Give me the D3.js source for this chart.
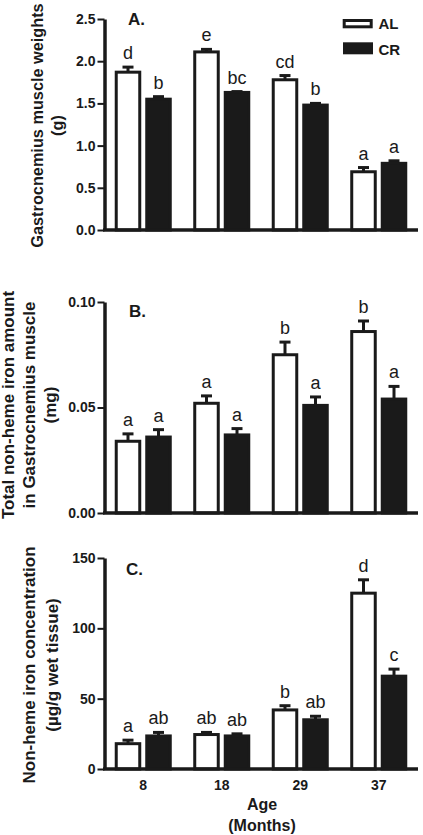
<!DOCTYPE html>
<html>
<head>
<meta charset="utf-8">
<script src="https://cdn.jsdelivr.net/npm/d3@7"></script>
<style>
  html, body { margin: 0; padding: 0; background: #fff; }
  svg { display: block; }
  text { font-family: "Liberation Sans", Arial, Helvetica, sans-serif; fill: #1a1a1a; }
</style>
</head>
<body>
<svg id="chart" width="423" height="835"></svg>
<script>
// ---- data ----
const ages = ["8", "18", "29", "37"];
const groups = ["AL", "CR"];

// Panel A: Gastrocnemius muscle weights (g)
const weightAL = [1.87, 2.11, 1.78, 0.69];
const weightALsem = [0.06, 0.03, 0.05, 0.05];
const weightCR = [1.55, 1.63, 1.48, 0.79];
const weightCRsem = [0.03, 0.01, 0.02, 0.03];
const weightLettersAL = ["d", "e", "cd", "a"];
const weightLettersCR = ["b", "bc", "b", "a"];
const weightTicks = [0, 0.5, 1.0, 1.5, 2.0, 2.5];

// Panel B: total non-heme iron amount (mg)
const amountAL = [0.034, 0.052, 0.075, 0.086];
const amountALsem = [0.0035, 0.0035, 0.006, 0.005];
const amountCR = [0.036, 0.037, 0.051, 0.054];
const amountCRsem = [0.0035, 0.003, 0.004, 0.006];
const amountLettersAL = ["a", "a", "b", "b"];
const amountLettersCR = ["a", "a", "a", "a"];
const amountTicks = [0, 0.05, 0.10];

// Panel C: non-heme iron concentration (µg/g wet tissue)
const concAL = [18, 24.5, 42, 125];
const concALsem = [2.5, 1.5, 3, 9.5];
const concCR = [23.5, 23.5, 35, 66];
const concCRsem = [2.5, 1.5, 2.5, 5];
const concLettersAL = ["a", "ab", "b", "d"];
const concLettersCR = ["ab", "ab", "ab", "c"];
const concTicks = [0, 50, 100, 150];

const ink = "#1a1a1a";
const svg = d3.select("#chart");

const x0 = d3.scaleBand().domain(ages).range([104, 418]).paddingInner(0).paddingOuter(0);
const x1 = d3.scaleBand().domain(groups).range([0, x0.bandwidth()]).paddingInner(0.131).paddingOuter(0.352);

const panels = [
  { label: "A.", labelPos: [128, 25], domain: [0, 2.5], range: [230, 19], ticks: weightTicks, fmt: d3.format(".1f"),
    al: weightAL, alSem: weightALsem, cr: weightCR, crSem: weightCRsem, lAL: weightLettersAL, lCR: weightLettersCR,
    title: ["Gastrocnemius muscle weights", "(g)"], titleX: [42.5, 63], titleY: 125.5, titleSize: 16.3 },
  { label: "B.", labelPos: [129, 317], domain: [0, 0.10], range: [513, 302], ticks: amountTicks, fmt: d3.format(".2f"),
    al: amountAL, alSem: amountALsem, cr: amountCR, crSem: amountCRsem, lAL: amountLettersAL, lCR: amountLettersCR,
    title: ["Total non-heme iron amount", "in Gastrocnemius muscle", "(mg)"], titleX: [14, 35, 55.5], titleY: 405, titleSize: 17 },
  { label: "C.", labelPos: [126, 575], domain: [0, 150], range: [769, 558], ticks: concTicks, fmt: d3.format("d"),
    al: concAL, alSem: concALsem, cr: concCR, crSem: concCRsem, lAL: concLettersAL, lCR: concLettersCR,
    title: ["Non-heme iron concentration", "(\u00b5g/g wet tissue)"], titleX: [35, 58], titleY: 665, titleSize: 17 }
];

panels.forEach((p, pi) => {
  const y = d3.scaleLinear().domain(p.domain).range(p.range);
  const g = svg.append("g");

  const rows = [];
  ages.forEach((a, i) => {
    rows.push({ age: a, grp: "AL", v: p.al[i], sem: p.alSem[i], lab: p.lAL[i] });
    rows.push({ age: a, grp: "CR", v: p.cr[i], sem: p.crSem[i], lab: p.lCR[i] });
  });
  const bw = x1.bandwidth();
  const bx = d => x0(d.age) + x1(d.grp);

  // error bars (upper only)
  rows.forEach(d => {
    const cx = bx(d) + bw / 2;
    g.append("line").attr("x1", cx).attr("x2", cx).attr("y1", y(d.v)).attr("y2", y(d.v + d.sem))
      .attr("stroke", ink).attr("stroke-width", 3);
    g.append("line").attr("x1", cx - 5.5).attr("x2", cx + 5.5).attr("y1", y(d.v + d.sem)).attr("y2", y(d.v + d.sem))
      .attr("stroke", ink).attr("stroke-width", 3);
  });

  g.selectAll("rect.bar").data(rows).join("rect")
    .attr("class", "bar")
    .attr("x", d => bx(d) + 1.5)
    .attr("width", bw - 3)
    .attr("y", d => y(d.v))
    .attr("height", d => y(0) - y(d.v))
    .attr("fill", d => d.grp === "AL" ? "#fff" : ink)
    .attr("stroke", ink).attr("stroke-width", 3);

  // significance letters
  g.selectAll("text.sig").data(rows).join("text")
    .attr("class", "sig")
    .attr("x", d => bx(d) + bw / 2)
    .attr("y", d => y(d.v + d.sem) - 8)
    .attr("text-anchor", "middle")
    .attr("font-size", 18)
    .text(d => d.lab);

  // y axis
  const ya = g.append("g").attr("transform", "translate(104.5,0)")
    .call(d3.axisLeft(y).tickValues(p.ticks).tickFormat(p.fmt).tickSize(7).tickSizeOuter(0).tickPadding(2));
  ya.select(".domain").attr("stroke", ink).attr("stroke-width", 3.5);
  ya.selectAll(".tick line").attr("stroke", ink).attr("stroke-width", 2);
  ya.selectAll(".tick text").attr("font-size", 14).attr("font-weight", "bold")
    .attr("font-family", "Liberation Sans, Arial, sans-serif").attr("fill", ink);

  // x axis line
  g.append("line").attr("x1", 103).attr("x2", 418).attr("y1", y(0)).attr("y2", y(0))
    .attr("stroke", ink).attr("stroke-width", 3.5);

  // panel label
  g.append("text").attr("x", p.labelPos[0]).attr("y", p.labelPos[1])
    .attr("font-size", 17).attr("font-weight", "bold").text(p.label);

  // y titles
  p.title.forEach((t, k) => {
    g.append("text")
      .attr("transform", `translate(${p.titleX[k]},${p.titleY}) rotate(-90)`)
      .attr("text-anchor", "middle")
      .attr("font-size", p.titleSize).attr("font-weight", "bold")
      .text(t);
  });

  if (pi === 2) {
    g.selectAll("text.xt").data(ages).join("text")
      .attr("class", "xt")
      .attr("x", d => x0(d) + x0.bandwidth() / 2)
      .attr("y", 789.5)
      .attr("text-anchor", "middle")
      .attr("font-size", 14).attr("font-weight", "bold")
      .text(d => d);
    g.append("text").attr("x", 262).attr("y", 810).attr("text-anchor", "middle")
      .attr("font-size", 16).attr("font-weight", "bold").text("Age");
    g.append("text").attr("x", 262).attr("y", 831).attr("text-anchor", "middle")
      .attr("font-size", 16).attr("font-weight", "bold").text("(Months)");
  }
});

// legend
const legend = svg.append("g");
legend.append("rect").attr("x", 344.2).attr("y", 20.5).attr("width", 27).attr("height", 6.3)
  .attr("fill", "#fff").attr("stroke", ink).attr("stroke-width", 3);
legend.append("rect").attr("x", 343).attr("y", 42.3).attr("width", 30).attr("height", 12)
  .attr("fill", ink);
legend.append("text").attr("x", 378.5).attr("y", 28.5).attr("font-size", 15).attr("font-weight", "bold").text(groups[0]);
legend.append("text").attr("x", 378.5).attr("y", 54.5).attr("font-size", 15).attr("font-weight", "bold").text(groups[1]);
</script>
</body>
</html>
